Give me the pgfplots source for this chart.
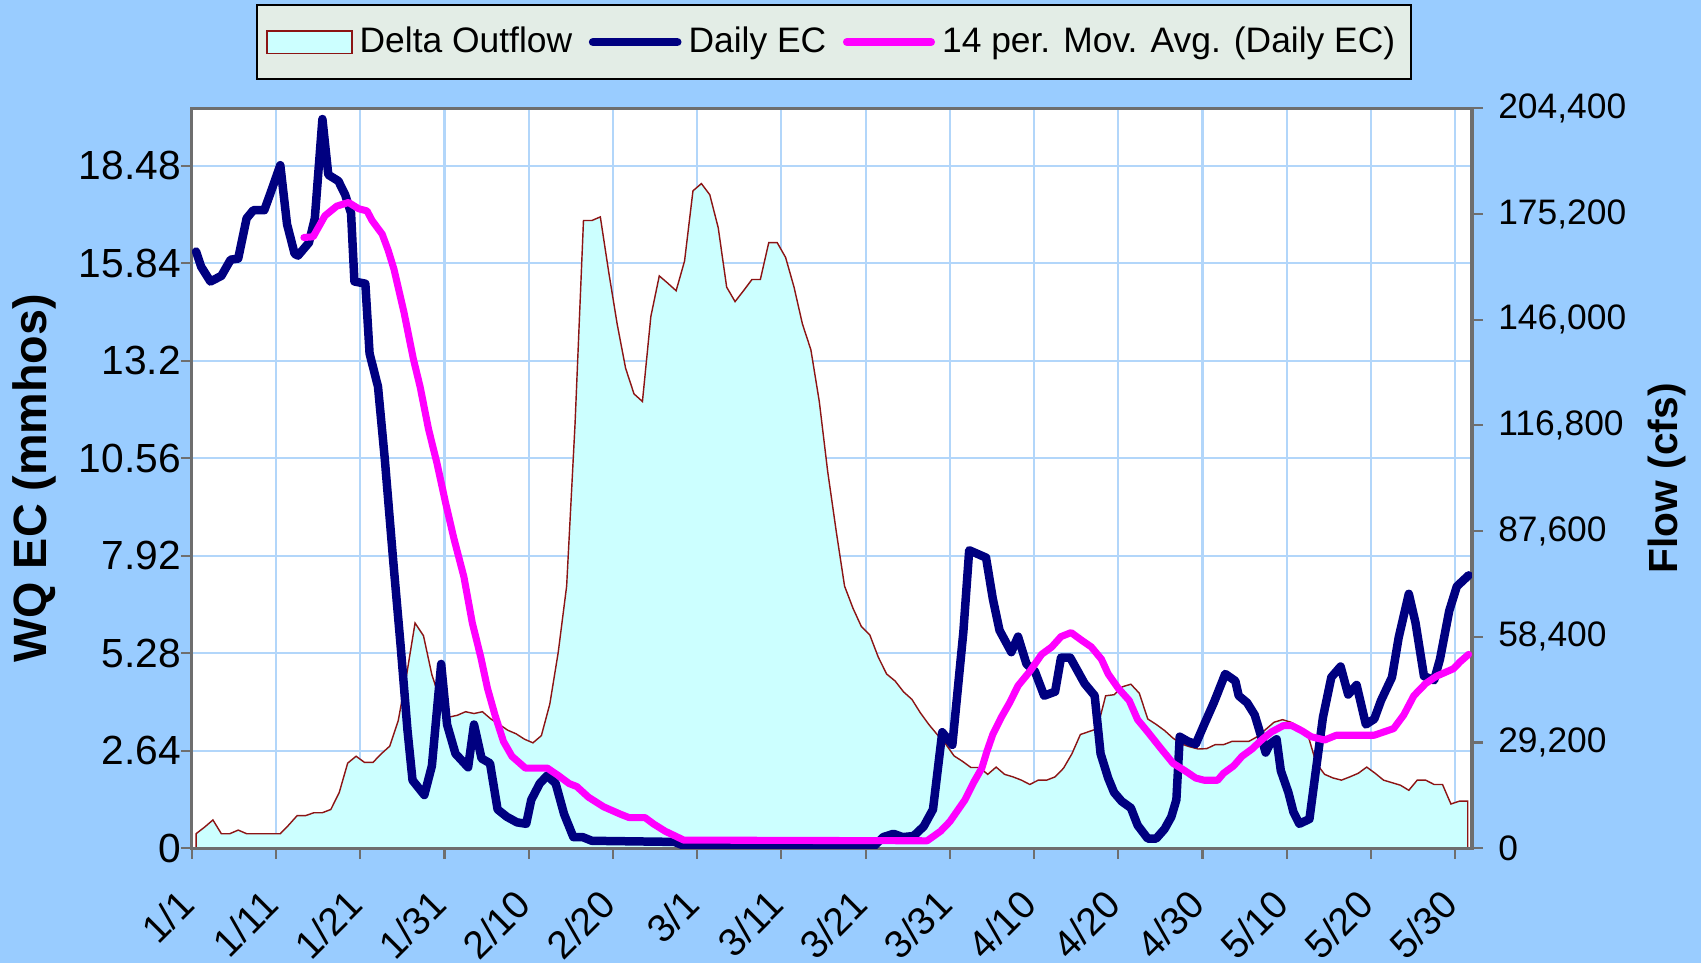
\documentclass[border=0pt]{standalone}
\usepackage{fontspec}
\setmainfont{Liberation Sans}
\usepackage{pgfplots}
\pgfplotsset{compat=1.18}
\definecolor{bgblue}{RGB}{153,204,255}
\definecolor{gridblue}{RGB}{178,214,250}
\definecolor{areafill}{RGB}{204,255,255}
\definecolor{arealine}{RGB}{140,20,20}
\definecolor{navyc}{RGB}{0,0,128}
\definecolor{magc}{RGB}{255,0,255}
\definecolor{legbg}{RGB}{227,237,230}
\definecolor{axgray}{RGB}{110,110,110}
\begin{document}
\begin{tikzpicture}
\fill[bgblue] (0,0) rectangle (480.5pt,272pt);
\pgfplotsset{
  base/.style={
    at={(54.2pt,32.4pt)}, anchor=south west,
    width=361.6pt, height=209pt, scale only axis,
    xmin=0, xmax=152, ymin=0,
    tick label style={font=\fontsize{10}{12}\selectfont},
    /pgf/number format/assume math mode=true,
    tick align=outside, major tick length=3pt,
    tick style={axgray, line width=0.6pt},
  }
}
% grid / left axis
\begin{axis}[base, ymax=20.04,
  axis background/.style={fill=white},
  axis line style={axgray, line width=0.9pt},
  xtick={0,10,...,150},
  xticklabels={1/1,1/11,1/21,1/31,2/10,2/20,3/1,3/11,3/21,3/31,4/10,4/20,4/30,5/10,5/20,5/30},
  xtick pos=bottom,
  xticklabel style={font=\fontsize{11}{13}\selectfont, xshift=1pt, yshift=-8.5pt, rotate=45, anchor=east},
  ytick={0,2.64,5.28,7.92,10.56,13.2,15.84,18.48},
  yticklabels={0,2.64,5.28,7.92,10.56,13.2,15.84,18.48},
  ytick pos=left,
  yticklabel style={font=\fontsize{11.5}{13}\selectfont, xshift=3.4pt},
  grid=major, major grid style={gridblue, line width=0.6pt},
  ylabel={WQ EC (mmhos)},
  ylabel style={at={(axis description cs:-0.1228,0.5)}, anchor=center, font=\bfseries\fontsize{13.2}{15}\selectfont},
]
\end{axis}
% flow axis
\begin{axis}[base, ymax=204400,
  axis x line=none, axis y line*=right,
  axis line style={axgray, line width=0.9pt},
  xtick=\empty,
  scaled y ticks=false,
  ytick={0,29200,58400,87600,116800,146000,175200,204400},
  yticklabels={0,{29,200},{58,400},{87,600},{116,800},{146,000},{175,200},{204,400}},
  yticklabel style={xshift=0.9pt},
  ylabel={Flow (cfs)},
  ylabel style={at={(axis description cs:1.1527,0.5)}, anchor=center, font=\bfseries\fontsize{11.5}{14}\selectfont},
]
\addplot[fill=areafill, draw=arealine, line width=0.4pt] coordinates {
(0.5,4000) (1.5,5800) (2.5,7800) (3.5,4000) (4.5,4000) (5.5,5000) (6.5,4000) (7.5,4000) (8.5,4000) (9.5,4000)
(10.5,4000) (11.5,6400) (12.5,9000) (13.5,9000) (14.5,9800) (15.5,9800) (16.5,10700) (17.5,15400) (18.5,23500) (19.5,25400)
(20.5,23700) (21.5,23700) (22.5,26100) (23.5,28200) (24.5,35200) (25.5,47900) (26.5,62200) (27.5,58700) (28.5,47900) (29.5,40800)
(30.5,36200) (31.5,36700) (32.5,37700) (33.5,37200) (34.5,37700) (35.5,35700) (36.5,34200) (37.5,32600) (38.5,31600) (39.5,30100)
(40.5,29100) (41.5,31100) (42.5,39800) (43.5,54100) (44.5,72400) (45.5,117300) (46.5,173400) (47.5,173400) (48.5,174400) (49.5,159100)
(50.5,144800) (51.5,132600) (52.5,125500) (53.5,123400) (54.5,146900) (55.5,158100) (56.5,156100) (57.5,154000) (58.5,162200) (59.5,181600)
(60.5,183600) (61.5,180500) (62.5,171400) (63.5,155000) (64.5,151000) (65.5,154000) (66.5,157100) (67.5,157100) (68.5,167300) (69.5,167300)
(70.5,163200) (71.5,155000) (72.5,144800) (73.5,137700) (74.5,123400) (75.5,104000) (76.5,87700) (77.5,72400) (78.5,66300) (79.5,61200)
(80.5,58900) (81.5,52800) (82.5,48100) (83.5,46200) (84.5,43200) (85.5,41100) (86.5,37400) (87.5,34200) (88.5,31400) (89.5,28800)
(90.5,25500) (91.5,24000) (92.5,22300) (93.5,22300) (94.5,20400) (95.5,22400) (96.5,20400) (97.5,19700) (98.5,18800) (99.5,17600)
(100.5,18800) (101.5,18800) (102.5,19700) (103.5,22100) (104.5,26100) (105.5,31400) (106.5,32200) (107.5,33000) (108.5,42100) (109.5,42400)
(110.5,44600) (111.5,45300) (112.5,42800) (113.5,35700) (114.5,34200) (115.5,32500) (116.5,30400) (117.5,28800) (118.5,28000) (119.5,27400)
(120.5,27500) (121.5,28600) (122.5,28600) (123.5,29500) (124.5,29500) (125.5,29500) (126.5,30800) (127.5,32800) (128.5,34800) (129.5,35500)
(130.5,34800) (131.5,33500) (132.5,31400) (133.5,23500) (134.5,20400) (135.5,19400) (136.5,18800) (137.5,19700) (138.5,20700) (139.5,22400)
(140.5,20700) (141.5,18800) (142.5,18100) (143.5,17400) (144.5,16000) (145.5,18800) (146.5,18800) (147.5,17600) (148.5,17600) (149.5,12200)
(150.5,13000) (151.5,13000)
} \closedcycle;
\end{axis}
% EC lines
\begin{axis}[base, ymax=20.04,
  xtick=\empty, ytick=\empty,
  axis line style={axgray, line width=0.9pt},
  legend style={at={(axis description cs:0.5017,1.0895)}, anchor=center,
    draw=black, line width=0.5pt, fill=legbg, font=\fontsize{10}{12}\selectfont,
    inner xsep=2.5pt, inner ysep=4pt,
    /tikz/every odd column/.append style={column sep=0pt},
    /tikz/every even column/.append style={column sep=2.7pt}},
  legend columns=3,
]
\addlegendimage{legend image code/.code={\draw[fill=areafill, draw=arealine, line width=0.5pt] (0pt,-3.2pt) rectangle (24pt,3.2pt);}}
\addlegendentry{Delta Outflow}
\addplot[navyc, line width=2.4pt, line join=round, line cap=round,
  legend image code/.code={\draw[navyc, line width=2.4pt, line cap=round] (1.2pt,0pt) -- (25pt,0pt);}] coordinates {
(0.5,16.16) (1.1,15.75) (2.2,15.35) (3.5,15.5) (4.6,15.94) (5.5,15.97) (6.5,17.06) (7.3,17.28) (8.6,17.28) (9.5,17.85)
(10.5,18.5) (11.3,16.9) (12.2,16.1) (12.6,16.05) (13.9,16.4) (14.6,17.06) (15.5,19.75) (16.2,18.24) (17.4,18.07) (18.2,17.7)
(18.9,17.2) (19.3,15.35) (20.6,15.29) (21.1,13.4) (22.1,12.5) (22.9,10.56) (23.9,7.8) (24.8,5.45) (25.6,3.2) (26.2,1.84)
(27.6,1.44) (28.5,2.23) (29.6,4.99) (30.3,3.35) (31.3,2.56) (32.8,2.19) (33.5,3.35) (34.4,2.43) (35.4,2.30) (36.3,1.05)
(37.4,0.85) (38.6,0.70) (39.7,0.66) (40.3,1.31) (41.3,1.75) (42.2,1.97) (43.2,1.75) (44.2,0.92) (45.3,0.30) (46.4,0.30)
(47.5,0.2) (57.3,0.17) (58.5,0.06) (81,0.06) (82.1,0.3) (83.3,0.39) (84.4,0.3) (85.7,0.33) (86.9,0.59) (88,1.05)
(89.1,3.14) (90.3,2.8) (91.6,5.84) (92.3,8.07) (94.3,7.87) (95.1,6.76) (95.9,5.9) (97.3,5.31) (98.1,5.73) (99.1,4.99)
(100.1,4.79) (101.2,4.13) (102.5,4.24) (103.2,5.16) (104.3,5.16) (106,4.46) (107.2,4.13) (107.9,2.56) (108.8,1.9) (109.5,1.51)
(110.4,1.27) (111.5,1.09) (112.3,0.62) (113.5,0.26) (114.5,0.26) (115.5,0.52) (116.3,0.85) (116.9,1.31) (117.3,3.02) (118.3,2.89)
(119.2,2.82) (120.2,3.35) (121.4,3.97) (122.7,4.72) (123.9,4.53) (124.3,4.13) (125.3,3.94) (126.2,3.61) (126.9,3.08) (127.5,2.59)
(128,2.82) (128.8,2.95) (129.3,2.1) (130.2,1.51) (130.8,0.98) (131.5,0.66) (132.7,0.79) (133.5,2.17) (134.3,3.54) (135.3,4.63)
(136.4,4.92) (137.3,4.16) (138.3,4.42) (139.4,3.35) (140.4,3.5) (141.2,4.0) (142.5,4.63) (143.3,5.71) (144.5,6.89) (145.3,6.1)
(146.3,4.66) (147.5,4.55) (148.2,5.12) (149.3,6.43) (150.2,7.09) (151.6,7.39)
};
\addlegendentry{Daily EC}
\addplot[magc, line width=2.0pt, line join=round, line cap=round,
  legend image code/.code={\draw[magc, line width=2.2pt, line cap=round] (1.2pt,0pt) -- (25pt,0pt);}] coordinates {
(13.3,16.54) (14.4,16.56) (15.8,17.13) (17.2,17.39) (18.6,17.49) (19.8,17.32) (20.8,17.26) (21.4,17.0) (22.6,16.63) (23.3,16.2)
(24.0,15.68) (25.2,14.5) (26.3,13.25) (27.1,12.5) (28.1,11.35) (29.1,10.43) (30.1,9.38) (31.1,8.4) (32.3,7.35) (33.3,6.1)
(34.3,5.18) (35.1,4.33) (36.0,3.6) (37.0,2.89) (38.0,2.49) (39.6,2.17) (42.2,2.17) (43.5,1.97) (44.8,1.75) (45.7,1.67)
(47.1,1.38) (48.9,1.12) (50.9,0.92) (51.9,0.83) (53.8,0.83) (54.8,0.66) (56.2,0.46) (58.4,0.22) (87.3,0.2) (88.9,0.46)
(90.0,0.72) (91.8,1.31) (92.8,1.77) (93.8,2.17) (94.4,2.62) (95.1,3.08) (96.1,3.54) (97.1,3.94) (98.1,4.4) (99.5,4.79)
(100.9,5.25) (102.1,5.45) (103.2,5.73) (104.4,5.84) (105.6,5.64) (106.8,5.45) (108,5.12) (108.8,4.72) (110,4.33) (111.3,4.0)
(112.3,3.48) (113.5,3.15) (115.1,2.69) (116.5,2.3) (117.9,2.1) (119.2,1.9) (120.2,1.84) (121.8,1.84) (122.5,2.03) (123.7,2.23)
(124.7,2.49) (125.9,2.69) (127.1,2.95) (128.2,3.15) (129.6,3.32) (130.6,3.32) (131.8,3.18) (132.9,3.02) (134.5,2.93) (135.9,3.06)
(140.4,3.06) (142.7,3.24) (143.9,3.61) (145.1,4.13) (146.5,4.46) (147.8,4.66) (149.8,4.86) (150.6,5.05) (151.6,5.25)
};
\addlegendentry{14 per. Mov. Avg. (Daily EC)}
\end{axis}
\pgfresetboundingbox
\path[use as bounding box] (0,0) rectangle (480.5pt,272pt);
\end{tikzpicture}
\end{document}
